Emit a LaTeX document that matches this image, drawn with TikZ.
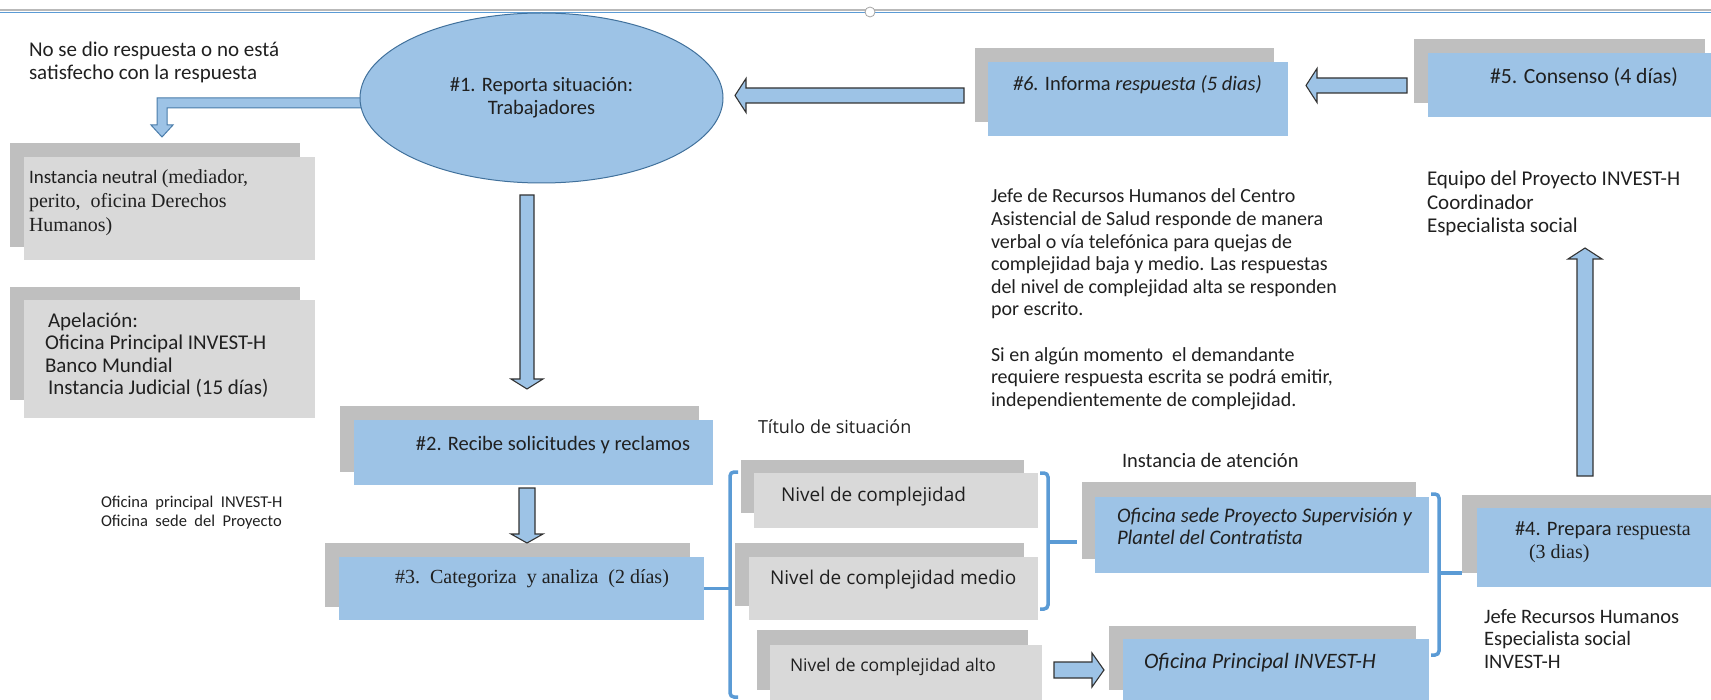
\documentclass[tikz,border=0pt]{standalone}
\usepackage{fontspec}
\setmainfont{Carlito}
\newfontfamily\tnr{Liberation Serif}
\newfontfamily\seg{Open Sans}
\usetikzlibrary{shapes.geometric}
\definecolor{lblue}{HTML}{9DC3E6}
\definecolor{eborder}{HTML}{41719C}
\definecolor{gback}{HTML}{BFBFBF}
\definecolor{gfront}{HTML}{D9D9D9}
\definecolor{brk}{HTML}{5B9BD5}
\definecolor{txt}{HTML}{202020}
\tikzset{
  backbox/.style={fill=gback, draw=none},
  bluebox/.style={fill=lblue, draw=none},
  greybox/.style={fill=gfront, draw=none},
  blockarrow/.style={fill=lblue, draw=black!80, line width=1.1pt, line join=miter},
  bracketline/.style={draw=brk, line width=3.5pt, rounded corners=4pt},
  lbl/.style={inner sep=0pt, outer sep=0pt, anchor=west, text=txt},
  blk/.style={inner sep=0pt, outer sep=0pt, anchor=north west, align=left, text=txt},
}
\newcommand{\dbox}[6]{\node[#2, anchor=north west, inner sep=0pt, outer sep=0pt, minimum width={#5-#3}, minimum height={#6-#4}] (#1) at (#3,#4) {};}
\newcommand{\barr}[6]{\draw[blockarrow, shift={(#1)}, rotate=#2] (0,-#4) -- ({#3-#6},-#4) -- ({#3-#6},-#5) -- (#3,0) -- ({#3-#6},#5) -- ({#3-#6},#4) -- (0,#4) -- cycle;}
\newcommand{\fs}[2]{\fontsize{#1}{#2}\selectfont}
\begin{document}
\begin{tikzpicture}[x=1pt,y=-1pt,font=\fontsize{20.5}{22.6}\selectfont]
\useasboundingbox (0,0) rectangle (1711,700);
\clip (0,0) rectangle (1711,700);
% top rule
\draw[gray!55, line width=1.2pt] (0,10) -- (1711,10);
\draw[brk, line width=1.5pt] (0,12.3) -- (1711,12.3);
\node[circle, draw=gray!70, fill=white, line width=0.8pt, minimum size=10pt, inner sep=0pt] (hdl) at (870,12) {};
% boxes
\dbox{inb}{backbox}{10}{143}{300}{247}
\dbox{inf}{greybox}{24}{157}{315}{260}
\dbox{apb}{backbox}{10}{287}{300}{400}
\dbox{apf}{greybox}{24}{300}{315}{418}
\dbox{b2b}{backbox}{340}{406}{699}{472}
\dbox{b2f}{bluebox}{354}{420}{713}{485}
\dbox{b3b}{backbox}{325}{543}{690}{607}
\dbox{b3f}{bluebox}{339}{557}{704}{620}
\dbox{b6b}{backbox}{975}{48}{1274}{122}
\dbox{b6f}{bluebox}{988}{62}{1288}{136}
\dbox{b5b}{backbox}{1414}{39}{1705}{103}
\dbox{b5f}{bluebox}{1428}{53}{1715}{117}
\dbox{n1b}{backbox}{741}{460}{1024}{513}
\dbox{n1f}{greybox}{754}{473}{1038}{528}
\dbox{n2b}{backbox}{735}{543}{1024}{606}
\dbox{n2f}{greybox}{749}{557}{1038}{620}
\dbox{n3b}{backbox}{757}{630}{1028}{690}
\dbox{n3f}{greybox}{770}{645}{1042}{705}
\dbox{osb}{backbox}{1082}{482}{1416}{559}
\dbox{osf}{bluebox}{1095}{497}{1429}{573}
\dbox{opb}{backbox}{1109}{626}{1416}{690}
\dbox{opf}{bluebox}{1123}{639}{1429}{705}
\dbox{b4b}{backbox}{1462}{495}{1715}{573}
\dbox{b4f}{bluebox}{1477}{508}{1715}{587}
% brackets
\coordinate (bl) at (730,472);
\draw[bracketline] (738,472) -- (bl) -- (730,697) -- (738,697);
\draw[bracketline] (b3f.east) -- (b3f.east -| bl);
\coordinate (br1) at (1048,542);
\coordinate (br1e) at (1077,542);
\draw[bracketline] (1040,473) -- (1048,473) -- (1048,609) -- (1040,609);
\draw[bracketline] (br1) -- (br1e);
\coordinate (br2) at (1439,573);
\draw[bracketline] (1431,494) -- (1439,494) -- (1439,655) -- (1431,655);
\draw[bracketline] (br2) -- (br2 -| b4b.west);
% bent arrow
\draw[blockarrow, draw=brk!80!black, line width=1pt] (370,98) -- (157,98) -- (157,125) -- (151,125) -- (162,137) -- (173,125) -- (167,125) -- (167,108) -- (370,108) -- cycle;
% ellipse
\node[ellipse, fill=lblue, draw=eborder, line width=1pt, minimum width=363pt, minimum height=170pt, inner sep=0pt, align=center, text=txt] (e1) at (541.5,98) {\#1. Reporta situación:\\Trabajadores};
% block arrows
\coordinate (t61) at (964,95.5); \barr{t61}{180}{229}{7.5}{17}{11}
\coordinate (t56) at (1407,85.5); \barr{t56}{180}{101}{7.5}{17}{11}
\coordinate (te2) at (527,195); \barr{te2}{-90}{194}{7}{16}{10}
\coordinate (t23) at (527,488); \barr{t23}{-90}{55}{8}{16}{9}
\coordinate (tao) at (1054,670); \barr{tao}{0}{50}{8}{17}{12}
\coordinate (tup) at (1585,476); \barr{tup}{90}{228}{8}{17}{11}
% texts
\node[blk, font=\fs{21}{22.6}] (tno) at (29,42) {No se dio respuesta o no está\\satisfecho con la respuesta};
\node[blk, font=\fs{19}{24}] (tin) at (29,170) {Instancia neutral {\tnr\fs{20}{24}(mediador,}\\{\tnr\fs{20}{24}perito,\ \ oficina Derechos}\\{\tnr\fs{20}{24}Humanos)}};
\node[blk, font=\fs{21}{22.4}] (tap) at (45,313) {\hspace{3pt}Apelación:\\Oficina Principal INVEST-H\\Banco Mundial\\\hspace{3pt}Instancia Judicial (15 días)};
\node[lbl, anchor=center] (t2) at (553,445) {\#2. Recibe solicitudes y reclamos};
\node[lbl, anchor=center, font=\tnr\fs{20}{24}] (t3) at (532,579) {\#3.\ \ Categoriza\ \ y analiza\ \ (2 días)};
\node[blk, font=\fs{16.5}{19}] (tof) at (101,496) {Oficina\ \ principal\ \ INVEST-H\\Oficina\ \ sede\ \ del\ \ Proyecto};
\node[lbl, font=\seg\fs{18}{22}] (ttit) at (758,427) {Título de situación};
\node[lbl, font=\seg\fs{19}{22}] (tn1) at (781,497) {Nivel de complejidad};
\node[lbl, font=\seg\fs{19}{22}] (tn2) at (770,580) {Nivel de complejidad medio};
\node[lbl, font=\seg\fs{17.5}{22}] (tn3) at (790,667) {Nivel de complejidad alto};
\node[lbl] (tia) at (1122,460) {Instancia de atención};
\node[blk, font=\itshape\fs{20.7}{22.6}] (tos) at (1117,508) {Oficina sede Proyecto Supervisión y\\Plantel del Contratista};
\node[lbl, font=\itshape\fs{22}{24}] (top) at (1144,663) {Oficina Principal INVEST-H};
\node[blk] (t4) at (1515,522) {\#4. Prepara {\tnr\fs{20}{24}respuesta}\\\hspace{14pt}{\tnr\fs{20}{24}(3 dias)}};
\node[blk] (tje) at (1484,609) {Jefe Recursos Humanos\\Especialista social\\INVEST-H};
\node[blk, font=\fs{21}{23.5}] (teq) at (1427,171) {Equipo del Proyecto INVEST-H\\Coordinador\\Especialista social};
\node[blk, font=\fs{20}{22.6}] (tpar) at (991,189) {Jefe de Recursos Humanos del Centro\\Asistencial de Salud responde de manera\\verbal o vía telefónica para quejas de\\complejidad baja y medio. Las respuestas\\del nivel de complejidad alta se responden\\por escrito.\\[22.6pt]Si en algún momento\ \ el demandante\\requiere respuesta escrita se podrá emitir,\\independientemente de complejidad.};
\node[lbl] (t6) at (1013,85) {\textit{\#6.} Informa \textit{respuesta (5 dias)}};
\node[lbl, font=\fs{21.7}{24}] (t5) at (1490,77) {\#5. Consenso (4 días)};
\end{tikzpicture}
\end{document}
